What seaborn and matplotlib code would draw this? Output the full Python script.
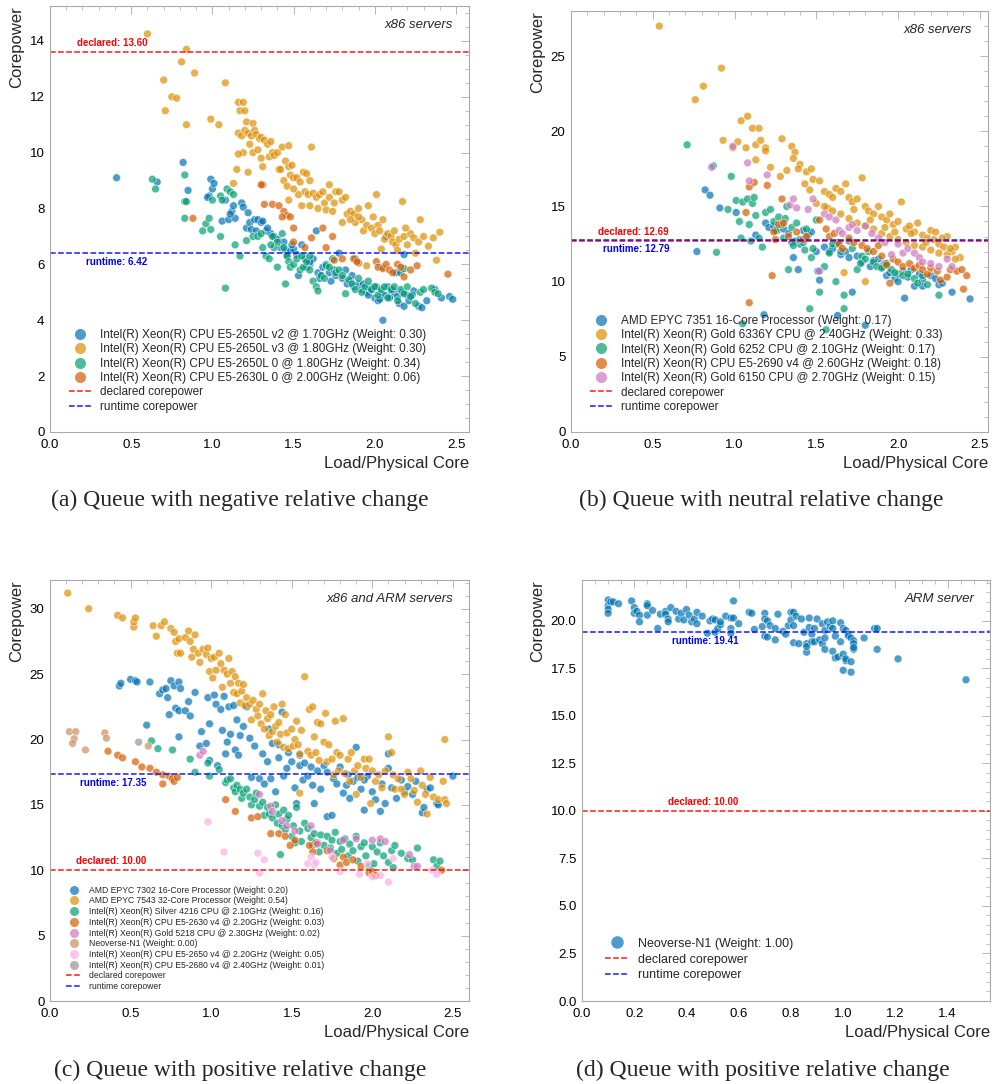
import numpy as np
import pandas as pd
import seaborn as sns
import matplotlib.pyplot as plt
from matplotlib.lines import Line2D
from matplotlib.ticker import AutoMinorLocator

# ---------------- data: (load per physical core, corepower) ----------------
# panel (a) - negative relative change
a_2650l_v2 = [(0.41, 9.1), (0.66, 8.95), (0.82, 9.65), (0.85, 8.65), (0.98, 8.45), (0.99, 9.05), (1.0, 8.7),
              (1.01, 8.9), (0.97, 8.4), (1.06, 7.55), (1.1, 7.6), (1.08, 8.3), (1.12, 7.9), (1.13, 8.1), (1.18, 8.2),
              (1.19, 8.05), (1.21, 7.3), (1.22, 7.85), (1.23, 7.5), (1.24, 7.25), (1.26, 7.6), (1.27, 7.2), (1.28, 7.6),
              (1.3, 7.5), (1.33, 7.2), (1.36, 7.1), (1.38, 7.0), (1.4, 6.9), (1.42, 6.6), (1.44, 6.8), (1.45, 6.5),
              (1.48, 6.5), (1.5, 6.55), (1.52, 6.35), (1.53, 5.6), (1.55, 6.7), (1.57, 6.2), (1.6, 6.0), (1.62, 6.2),
              (1.64, 7.2), (1.65, 5.7), (1.67, 5.6), (1.68, 5.9), (1.7, 6.0), (1.72, 5.7), (1.75, 5.8), (1.78, 6.4),
              (1.8, 5.5), (1.82, 5.8), (1.85, 5.4), (1.87, 5.2), (1.88, 6.2), (1.9, 5.3), (1.92, 5.1), (1.95, 5.0),
              (1.97, 5.2), (2.0, 4.8), (2.02, 4.7), (2.04, 5.0), (2.05, 4.0), (2.06, 4.9), (2.08, 5.2), (2.1, 4.9),
              (2.12, 5.0), (2.13, 5.7), (2.15, 4.6), (2.16, 5.7), (2.18, 6.35), (2.18, 4.5), (2.2, 4.9), (2.24, 5.05),
              (2.27, 4.5), (2.29, 4.45), (2.32, 4.7), (2.37, 5.1), (2.41, 4.8), (2.46, 4.85), (2.48, 4.75), (2.07, 7.0),
              (1.58, 5.9), (1.6, 6.1), (1.66, 5.5), (1.73, 5.4), (1.76, 5.6), (1.83, 5.3), (1.86, 5.6), (1.93, 5.3),
              (1.96, 4.9), (1.98, 5.1), (2.01, 5.2), (2.03, 4.75), (2.09, 4.8), (2.11, 5.1), (2.14, 4.85), (2.17, 5.0),
              (2.21, 4.7), (2.23, 4.9), (1.46, 6.3), (1.49, 6.7), (1.34, 7.3), (1.31, 7.55), (1.14, 7.65), (1.11, 7.8)]
a_2650l_v3 = [(0.6, 14.25), (0.84, 13.7), (0.81, 13.25), (0.89, 12.85), (0.7, 12.6), (1.08, 12.5), (0.75, 12.0),
              (0.78, 11.95), (0.71, 11.5), (0.84, 11.0), (0.99, 11.2), (1.04, 11.0), (1.16, 11.8), (1.19, 11.8),
              (1.17, 11.5), (1.2, 11.5), (1.21, 11.1), (1.25, 11.05), (1.16, 10.7), (1.18, 10.6), (1.2, 10.8),
              (1.22, 10.7), (1.24, 10.6), (1.26, 10.8), (1.27, 10.65), (1.29, 10.5), (1.3, 10.55), (1.32, 10.45),
              (1.34, 10.3), (1.36, 10.4), (1.23, 10.3), (1.19, 10.0), (1.16, 9.95), (1.25, 10.0), (1.28, 10.1),
              (1.3, 9.8), (1.35, 9.85), (1.37, 10.0), (1.38, 9.9), (1.4, 10.0), (1.43, 10.2), (1.47, 10.25),
              (1.41, 9.4), (1.45, 9.7), (1.47, 9.5), (1.49, 9.55), (1.44, 9.0), (1.46, 8.8), (1.48, 9.2), (1.5, 9.1),
              (1.52, 9.1), (1.54, 8.95), (1.56, 9.3), (1.58, 9.25), (1.6, 9.0), (1.61, 10.2), (1.53, 8.5), (1.55, 8.1),
              (1.57, 8.6), (1.59, 8.5), (1.6, 8.1), (1.62, 8.55), (1.64, 8.4), (1.65, 8.0), (1.66, 8.5), (1.68, 8.6),
              (1.69, 8.2), (1.7, 7.95), (1.72, 8.85), (1.74, 7.9), (1.76, 8.6), (1.78, 8.6), (1.8, 8.3), (1.82, 8.4),
              (1.83, 7.8), (1.85, 7.9), (1.87, 7.8), (1.88, 7.5), (1.9, 8.0), (1.92, 7.6), (1.93, 7.2), (1.95, 7.4),
              (1.96, 8.1), (1.98, 7.3), (1.99, 7.7), (2.0, 7.1), (2.01, 8.5), (2.02, 7.4), (2.03, 7.2), (2.05, 7.6),
              (2.06, 6.9), (2.08, 7.1), (2.1, 7.0), (2.11, 6.8), (2.12, 7.2), (2.13, 6.7), (2.14, 6.5), (2.15, 6.9),
              (2.17, 8.25), (2.18, 7.0), (2.2, 6.7), (2.22, 7.1), (2.24, 6.95), (2.25, 6.4), (2.27, 6.8), (2.28, 7.6),
              (2.3, 7.0), (2.33, 6.65), (2.36, 6.95), (2.38, 6.15), (2.4, 7.15), (2.04, 6.55), (1.95, 5.95),
              (2.19, 7.3), (1.15, 9.4), (1.13, 8.9), (1.22, 9.3), (1.31, 9.5), (1.42, 9.4), (1.47, 8.3), (1.5, 8.7),
              (1.72, 8.4), (1.75, 8.2), (1.8, 7.5), (1.85, 7.6), (1.9, 7.7)]
a_2650l_0 = [(0.63, 9.05), (0.65, 8.7), (0.83, 9.2), (0.83, 8.25), (0.84, 8.25), (0.83, 7.65), (0.94, 7.2),
             (0.96, 7.45), (0.98, 7.65), (0.99, 7.25), (1.0, 8.3), (1.05, 8.45), (1.06, 8.3), (1.09, 8.7), (1.11, 8.6),
             (1.13, 8.5), (1.05, 7.0), (1.08, 5.15), (1.14, 6.7), (1.17, 6.3), (1.21, 6.85), (1.25, 7.0), (1.28, 7.0),
             (1.31, 6.6), (1.33, 6.3), (1.35, 6.2), (1.37, 7.0), (1.38, 6.6), (1.4, 6.8), (1.4, 5.9), (1.43, 7.1),
             (1.45, 5.3), (1.46, 6.3), (1.47, 6.1), (1.48, 5.9), (1.5, 6.0), (1.52, 6.2), (1.54, 5.8), (1.56, 5.9),
             (1.58, 6.1), (1.6, 5.8), (1.62, 5.4), (1.64, 5.2), (1.65, 5.05), (1.67, 5.6), (1.69, 5.5), (1.7, 5.95),
             (1.72, 5.9), (1.74, 6.2), (1.76, 5.7), (1.78, 5.8), (1.8, 5.6), (1.82, 4.95), (1.84, 5.45), (1.86, 5.3),
             (1.88, 5.1), (1.9, 5.5), (1.92, 5.0), (1.94, 5.2), (1.96, 5.4), (1.98, 5.1), (2.0, 5.2), (2.02, 4.9),
             (2.04, 5.1), (2.06, 5.2), (2.08, 4.8), (2.1, 5.1), (2.12, 5.2), (2.14, 4.7), (2.16, 5.1), (2.18, 4.95),
             (2.2, 5.2), (2.22, 4.85), (2.25, 4.6), (2.28, 5.0), (2.3, 5.1), (2.35, 5.15), (2.37, 5.0), (2.39, 4.95),
             (2.04, 5.9), (2.18, 5.85), (1.3, 7.1), (1.44, 6.6), (1.36, 6.7), (1.55, 6.3), (1.6, 6.3)]
a_2630l_0 = [(0.88, 7.65), (1.31, 8.85), (1.32, 8.15), (1.37, 8.15), (1.41, 8.1), (1.44, 7.9), (1.46, 7.75),
             (1.48, 7.7), (1.43, 7.7), (1.5, 7.3), (1.5, 6.8), (1.57, 6.6), (1.61, 6.95), (1.68, 7.3), (1.7, 6.6),
             (1.74, 7.0), (1.75, 6.15), (1.8, 6.2), (1.87, 6.2), (1.9, 6.05), (1.89, 6.1), (2.01, 6.1), (2.02, 5.9),
             (2.05, 5.85), (2.07, 6.0), (2.09, 5.8), (2.11, 5.7), (2.14, 6.0), (2.16, 5.9), (2.18, 5.55), (2.22, 5.8),
             (2.26, 5.95), (2.45, 5.65), (1.3, 8.85)]
a_labels = ["Intel(R) Xeon(R) CPU E5-2650L v2 @ 1.70GHz (Weight: 0.30)",
            "Intel(R) Xeon(R) CPU E5-2650L v3 @ 1.80GHz (Weight: 0.30)",
            "Intel(R) Xeon(R) CPU E5-2650L 0 @ 1.80GHz (Weight: 0.34)",
            "Intel(R) Xeon(R) CPU E5-2630L 0 @ 2.00GHz (Weight: 0.06)"]
a_declared, a_runtime = 13.60, 6.42

# panel (b) - neutral relative change
b_epyc7351 = [(0.82, 16.1), (0.85, 15.75), (0.91, 14.9), (1.01, 14.6), (0.77, 12.0), (1.13, 13.1), (1.19, 13.9),
              (1.21, 13.6), (1.24, 13.7), (1.26, 13.4), (1.3, 13.5), (1.33, 13.2), (1.36, 11.6), (1.39, 10.8),
              (1.42, 13.4), (1.45, 13.1), (1.47, 13.3), (1.5, 12.0), (1.51, 10.7), (1.52, 10.1), (1.55, 12.3),
              (1.58, 12.0), (1.62, 12.5), (1.63, 7.75), (1.65, 11.8), (1.68, 12.0), (1.7, 11.6), (1.72, 9.3),
              (1.75, 11.7), (1.78, 11.3), (1.8, 7.1), (1.83, 11.0), (1.85, 11.4), (1.88, 11.5), (1.9, 11.0),
              (1.93, 10.4), (1.95, 10.6), (1.98, 10.2), (2.0, 10.0), (2.03, 10.7), (2.04, 8.9), (2.06, 10.3),
              (2.08, 10.8), (2.1, 9.7), (2.13, 10.5), (2.15, 10.1), (2.2, 10.4), (2.23, 10.2), (2.25, 9.8),
              (2.27, 9.9), (2.33, 9.3), (2.44, 8.85), (1.18, 7.8), (1.35, 12.6), (1.4, 12.5), (1.6, 12.2),
              (1.92, 11.2), (2.15, 9.7)]
b_gold6336y = [(0.54, 27.0), (0.92, 24.2), (0.81, 23.0), (0.76, 22.1), (1.04, 20.7), (1.08, 21.0), (1.11, 20.2),
               (1.15, 20.2), (0.93, 19.4), (0.99, 18.9), (1.02, 19.3), (1.07, 18.9), (1.13, 19.1), (1.16, 19.4),
               (1.19, 18.9), (1.19, 18.7), (1.13, 18.1), (1.22, 17.6), (1.29, 19.5), (1.35, 19.0), (1.37, 18.6),
               (1.36, 18.2), (1.32, 17.4), (1.28, 17.0), (1.4, 17.8), (1.44, 17.3), (1.47, 17.5), (1.39, 17.5),
               (1.43, 16.5), (1.46, 16.1), (1.48, 16.8), (1.52, 16.7), (1.55, 16.0), (1.58, 15.8), (1.6, 15.6),
               (1.62, 16.2), (1.65, 16.0), (1.68, 16.5), (1.7, 15.6), (1.72, 15.3), (1.75, 15.5), (1.78, 16.9),
               (1.8, 15.0), (1.82, 14.7), (1.85, 14.5), (1.88, 15.0), (1.9, 14.3), (1.93, 14.1), (1.95, 14.5),
               (1.97, 13.8), (2.0, 14.0), (2.02, 15.3), (2.05, 13.5), (2.07, 13.7), (2.1, 13.3), (2.12, 13.9),
               (2.15, 13.1), (2.18, 12.9), (2.2, 13.4), (2.22, 12.8), (2.25, 12.5), (2.28, 12.3), (2.3, 13.0),
               (2.33, 12.0), (2.35, 12.3), (2.38, 11.6), (1.67, 10.6), (1.8, 10.0), (1.57, 14.9), (1.65, 14.5),
               (1.7, 14.2), (1.75, 13.9), (1.8, 13.7), (1.85, 13.5), (1.9, 13.2), (1.95, 13.0), (2.0, 12.8),
               (2.05, 12.6), (2.1, 12.4), (2.15, 12.3), (2.2, 12.1), (2.25, 11.9), (2.3, 11.8), (2.35, 11.5),
               (1.5, 15.2), (1.55, 15.0), (1.6, 14.7), (1.73, 14.8), (1.83, 14.1), (1.92, 13.6), (1.98, 13.3),
               (2.08, 13.2), (2.17, 12.6), (2.23, 13.3), (2.27, 12.9), (2.32, 12.2)]
b_gold6252 = [(0.71, 19.1), (0.87, 17.7), (0.98, 17.0), (0.89, 11.95), (0.96, 14.8), (1.01, 15.4), (1.05, 15.3),
              (1.03, 14.0), (1.04, 12.9), (1.08, 15.5), (1.09, 13.8), (1.11, 15.2), (1.13, 14.4), (1.12, 15.6),
              (1.17, 12.3), (1.19, 14.6), (1.22, 14.8), (1.24, 14.0), (1.25, 13.4), (1.27, 14.3), (1.29, 13.8),
              (1.31, 14.2), (1.32, 15.0), (1.33, 10.8), (1.35, 13.6), (1.37, 12.7), (1.38, 13.9), (1.4, 12.8),
              (1.42, 12.6), (1.44, 13.5), (1.46, 8.2), (1.47, 11.6), (1.48, 12.2), (1.5, 14.1), (1.52, 9.3),
              (1.55, 11.0), (1.56, 6.8), (1.6, 12.5), (1.63, 12.6), (1.62, 10.0), (1.65, 12.0), (1.67, 9.1),
              (1.67, 8.2), (1.7, 12.7), (1.72, 12.2), (1.75, 10.8), (1.78, 11.7), (1.8, 11.5), (1.82, 12.0),
              (1.85, 11.3), (1.87, 11.0), (1.9, 10.9), (1.93, 11.2), (1.96, 10.8), (2.0, 10.5), (2.03, 10.4),
              (2.06, 10.5), (2.1, 10.2), (2.12, 9.9), (2.18, 9.8), (2.25, 9.1), (1.05, 7.2), (1.1, 12.7),
              (1.15, 12.9), (1.3, 12.9), (1.36, 12.4), (1.43, 12.1), (1.58, 11.9), (1.77, 11.2), (1.98, 10.6),
              (2.15, 10.4)]
b_e5_2690v4 = [(1.09, 16.3), (1.07, 14.6), (1.12, 16.6), (1.2, 16.4), (1.23, 10.4), (1.09, 8.6), (1.29, 15.5),
               (1.24, 13.3), (1.27, 13.8), (1.3, 13.9), (1.33, 13.0), (1.38, 13.3), (1.42, 12.8), (1.44, 13.0),
               (1.52, 14.1), (1.56, 13.5), (1.58, 13.0), (1.61, 13.2), (1.64, 12.5), (1.66, 12.2), (1.7, 12.9),
               (1.73, 12.6), (1.78, 12.4), (1.81, 12.2), (1.85, 12.0), (1.88, 12.4), (1.9, 11.7), (1.93, 11.1),
               (1.95, 9.9), (1.97, 11.5), (2.0, 11.3), (2.03, 11.0), (2.07, 11.2), (2.1, 10.9), (2.13, 11.1),
               (2.15, 10.8), (2.18, 10.5), (2.2, 10.9), (2.24, 10.7), (2.26, 10.1), (2.3, 10.3), (2.32, 10.8),
               (2.36, 10.7), (2.39, 10.8), (2.4, 9.5), (2.42, 10.4), (1.25, 12.8)]
b_gold6150 = [(0.99, 19.0), (1.08, 17.9), (1.09, 16.7), (1.2, 17.1), (1.34, 15.1), (1.36, 15.5), (1.38, 14.9),
              (1.45, 14.8), (1.48, 15.5), (1.52, 10.7), (1.55, 14.5), (1.58, 14.3), (1.62, 14.1), (1.64, 13.4),
              (1.66, 13.2), (1.7, 13.6), (1.72, 13.8), (1.75, 13.4), (1.8, 13.7), (1.84, 13.2), (1.88, 12.9),
              (1.92, 12.6), (1.96, 11.8), (2.0, 12.5), (2.03, 11.9), (2.06, 12.2), (2.1, 11.9), (2.13, 11.6),
              (2.15, 11.3), (2.2, 11.2), (2.25, 11.0), (2.3, 11.5), (2.33, 11.0), (0.86, 17.6)]
b_labels = ["AMD EPYC 7351 16-Core Processor (Weight: 0.17)",
            "Intel(R) Xeon(R) Gold 6336Y CPU @ 2.40GHz (Weight: 0.33)",
            "Intel(R) Xeon(R) Gold 6252 CPU @ 2.10GHz (Weight: 0.17)",
            "Intel(R) Xeon(R) CPU E5-2690 v4 @ 2.60GHz (Weight: 0.18)",
            "Intel(R) Xeon(R) Gold 6150 CPU @ 2.70GHz (Weight: 0.15)"]
b_declared, b_runtime = 12.69, 12.79

# panel (c) - positive relative change, mixed x86 / ARM
c_epyc7302 = [(0.43, 24.1), (0.44, 24.3), (0.5, 24.6), (0.53, 24.5), (0.54, 24.4), (0.62, 24.4), (0.6, 21.1),
              (0.68, 23.5), (0.7, 23.8), (0.72, 23.9), (0.73, 23.2), (0.74, 21.9), (0.75, 24.5), (0.77, 24.1),
              (0.78, 22.4), (0.8, 22.2), (0.8, 24.4), (0.81, 23.9), (0.8, 20.2), (0.84, 22.2), (0.86, 22.9),
              (0.87, 21.8), (0.9, 23.6), (0.93, 19.5), (0.94, 20.6), (0.97, 19.7), (0.98, 23.2), (0.99, 21.2),
              (0.99, 18.4), (1.02, 23.4), (1.03, 22.7), (1.04, 18.0), (1.06, 22.3), (1.07, 20.7), (1.08, 23.3),
              (1.09, 18.9), (1.1, 19.8), (1.11, 22.5), (1.12, 20.4), (1.14, 22.6), (1.15, 19.2), (1.16, 21.5),
              (1.17, 18.8), (1.18, 20.3), (1.2, 21.0), (1.22, 22.5), (1.24, 20.1), (1.25, 17.1), (1.27, 19.5),
              (1.3, 17.0), (1.32, 18.9), (1.33, 16.6), (1.35, 18.3), (1.37, 17.0), (1.38, 19.7), (1.4, 16.0),
              (1.42, 18.6), (1.44, 22.1), (1.45, 17.2), (1.47, 17.8), (1.5, 18.3), (1.52, 16.3), (1.53, 15.1),
              (1.55, 18.0), (1.57, 16.9), (1.6, 17.2), (1.63, 16.5), (1.64, 15.1), (1.66, 17.6), (1.68, 16.2),
              (1.7, 18.0), (1.72, 14.1), (1.75, 14.2), (1.76, 17.0), (1.78, 16.6), (1.8, 17.9), (1.82, 15.9),
              (1.84, 16.5), (1.86, 15.5), (1.88, 16.8), (1.9, 19.4), (1.91, 17.1), (1.93, 16.2), (1.95, 14.6),
              (1.97, 17.2), (2.0, 16.0), (2.02, 15.4), (2.05, 14.5), (2.06, 16.6), (2.08, 15.1), (2.1, 18.9),
              (2.1, 17.8), (2.12, 16.3), (2.15, 15.5), (2.18, 16.9), (2.2, 16.0), (2.22, 16.4), (2.25, 15.8),
              (2.27, 16.8), (2.31, 14.4), (2.32, 14.8), (2.34, 16.2), (2.36, 16.3), (2.4, 15.1), (2.41, 15.0),
              (2.5, 17.2), (1.36, 20.8), (1.42, 19.6), (1.48, 19.0), (1.55, 18.8), (1.58, 18.2), (1.62, 17.9),
              (1.72, 17.5), (1.85, 17.3), (1.95, 16.9)]
c_epyc7543 = [(0.11, 31.2), (0.24, 30.0), (0.42, 29.5), (0.45, 29.3), (0.52, 28.6), (0.52, 29.0), (0.53, 29.3),
              (0.64, 28.7), (0.66, 27.9), (0.69, 28.7), (0.71, 29.0), (0.75, 28.5), (0.77, 28.2), (0.78, 27.5),
              (0.8, 27.7), (0.79, 26.6), (0.81, 26.6), (0.84, 27.8), (0.86, 28.3), (0.87, 27.5), (0.9, 28.0),
              (0.89, 26.9), (0.88, 26.3), (0.92, 26.6), (0.93, 25.9), (0.95, 26.9), (0.97, 26.5), (0.98, 27.0),
              (0.99, 25.2), (1.0, 26.2), (1.01, 24.7), (1.02, 26.3), (1.03, 25.3), (1.05, 26.6), (1.06, 25.8),
              (1.07, 24.0), (1.08, 25.3), (1.1, 25.0), (1.11, 26.2), (1.12, 24.3), (1.13, 25.2), (1.14, 23.6),
              (1.15, 24.8), (1.16, 23.5), (1.17, 24.3), (1.18, 22.8), (1.19, 23.7), (1.2, 24.2), (1.21, 22.6),
              (1.22, 23.2), (1.24, 22.7), (1.25, 21.5), (1.26, 23.0), (1.28, 22.3), (1.29, 21.8), (1.3, 22.7),
              (1.31, 21.2), (1.32, 23.5), (1.33, 20.8), (1.34, 22.2), (1.35, 21.6), (1.36, 20.3), (1.37, 21.9),
              (1.38, 20.6), (1.39, 22.5), (1.4, 21.0), (1.41, 19.8), (1.42, 21.3), (1.43, 20.4), (1.44, 22.7),
              (1.45, 19.4), (1.46, 21.9), (1.47, 20.5), (1.48, 19.3), (1.5, 20.8), (1.51, 19.5), (1.52, 20.0),
              (1.53, 21.4), (1.54, 19.6), (1.55, 18.9), (1.56, 20.7), (1.55, 15.9), (1.58, 24.8), (1.6, 19.1),
              (1.61, 22.3), (1.62, 18.8), (1.63, 22.5), (1.64, 20.2), (1.65, 19.0), (1.66, 21.3), (1.67, 18.4),
              (1.68, 21.2), (1.7, 19.8), (1.71, 22.0), (1.72, 18.3), (1.73, 19.6), (1.75, 18.5), (1.76, 17.3),
              (1.77, 21.4), (1.78, 19.0), (1.79, 17.6), (1.8, 18.8), (1.82, 21.6), (1.83, 17.4), (1.85, 18.5),
              (1.86, 16.8), (1.87, 19.0), (1.89, 17.6), (1.9, 15.8), (1.91, 18.0), (1.93, 17.1), (1.95, 18.5),
              (1.96, 17.8), (1.98, 18.5), (1.99, 15.1), (2.0, 17.6), (2.02, 16.8), (2.04, 17.3), (2.06, 16.3),
              (2.08, 17.6), (2.1, 20.2), (2.12, 19.0), (2.13, 17.3), (2.14, 16.2), (2.16, 17.0), (2.18, 16.2),
              (2.2, 15.8), (2.22, 17.5), (2.24, 17.0), (2.26, 16.1), (2.28, 15.2), (2.3, 17.6), (2.31, 16.5),
              (2.33, 15.8), (2.34, 14.3), (2.36, 17.1), (2.38, 15.6), (2.41, 15.4), (2.44, 16.8), (2.45, 15.4),
              (2.46, 15.1), (2.45, 20.0)]
c_silver4216 = [(0.63, 19.9), (0.67, 19.3), (0.76, 19.2), (0.87, 18.5), (0.9, 17.5), (0.99, 17.2), (1.05, 17.7),
                (1.09, 16.7), (1.1, 16.9), (1.12, 17.0), (1.14, 16.3), (1.15, 16.0), (1.16, 16.5), (1.18, 16.2),
                (1.19, 15.5), (1.2, 15.9), (1.22, 16.2), (1.24, 15.6), (1.25, 15.0), (1.27, 15.4), (1.28, 15.9),
                (1.3, 14.9), (1.32, 15.2), (1.33, 14.2), (1.35, 14.8), (1.36, 14.3), (1.38, 14.0), (1.4, 15.0),
                (1.41, 13.6), (1.42, 14.3), (1.43, 11.2), (1.44, 13.4), (1.45, 14.6), (1.46, 13.1), (1.47, 13.9),
                (1.48, 14.2), (1.5, 12.6), (1.51, 13.4), (1.52, 12.1), (1.53, 14.8), (1.55, 13.0), (1.56, 12.2),
                (1.58, 13.6), (1.6, 13.2), (1.62, 12.5), (1.63, 11.9), (1.64, 12.8), (1.66, 12.1), (1.67, 11.4),
                (1.68, 12.7), (1.7, 11.9), (1.72, 12.6), (1.74, 11.7), (1.75, 12.3), (1.77, 12.9), (1.78, 11.3),
                (1.8, 12.2), (1.81, 11.6), (1.83, 12.4), (1.85, 11.1), (1.86, 12.0), (1.88, 11.5), (1.9, 12.6),
                (1.91, 10.7), (1.93, 11.8), (1.95, 12.1), (1.96, 11.1), (1.98, 10.3), (2.0, 11.8), (2.01, 10.5),
                (2.03, 11.4), (2.05, 12.1), (2.07, 11.1), (2.1, 10.6), (2.12, 11.5), (2.13, 10.2), (2.14, 11.9),
                (2.18, 11.3), (2.22, 10.9), (2.25, 10.8), (2.28, 11.7), (2.38, 10.8), (2.4, 10.3), (2.42, 10.7),
                (0.98, 18.2)]
c_e5_2630v4 = [(0.36, 19.1), (0.42, 18.8), (0.45, 18.6), (0.53, 18.3), (0.57, 17.9), (0.62, 17.8), (0.66, 17.5),
               (0.7, 17.3), (0.7, 16.6), (0.74, 17.2), (0.76, 17.0), (0.77, 16.8), (0.79, 17.1), (1.09, 15.4),
               (1.15, 14.5), (1.25, 14.0), (1.29, 14.1), (1.37, 12.8), (1.42, 12.8), (1.46, 12.6), (1.49, 11.9),
               (1.52, 12.3), (1.61, 11.9), (1.63, 11.4), (1.65, 12.1), (1.72, 11.5), (1.76, 10.9), (1.8, 10.4),
               (1.82, 11.0), (1.84, 10.6), (1.88, 10.8), (1.93, 10.3), (1.98, 9.8), (2.0, 9.9), (2.02, 9.6),
               (2.43, 10.0)]
c_gold5218 = [(0.93, 18.8), (0.95, 19.1), (1.3, 15.8), (1.37, 14.9), (1.38, 14.5), (1.44, 13.8), (1.47, 13.4),
              (1.52, 13.0), (1.62, 13.4), (1.66, 12.0), (1.74, 11.5), (1.82, 12.3), (1.9, 12.4), (2.0, 12.3),
              (2.05, 12.4), (2.08, 12.2), (2.23, 11.2), (2.26, 10.3), (2.28, 10.3)]
c_neoverse = [(0.12, 20.6), (0.16, 20.6), (0.15, 20.06), (0.14, 19.7), (0.22, 19.2), (0.34, 20.5), (0.35, 20.1),
              (0.61, 19.5)]
c_e5_2650v4 = [(0.98, 13.7), (1.08, 11.4), (1.29, 11.3), (1.3, 9.8), (1.33, 10.8), (1.6, 10.5), (1.62, 11.0),
               (1.64, 10.4), (1.65, 10.6), (1.8, 9.9), (1.92, 9.7), (1.97, 10.5), (2.0, 9.5), (2.05, 9.6),
               (2.1, 9.1), (2.13, 10.9), (2.37, 10.0), (2.4, 9.7), (1.75, 11.0)]
c_e5_2680v4 = [(0.55, 19.8)]
c_labels = ["AMD EPYC 7302 16-Core Processor (Weight: 0.20)",
            "AMD EPYC 7543 32-Core Processor (Weight: 0.54)",
            "Intel(R) Xeon(R) Silver 4216 CPU @ 2.10GHz (Weight: 0.16)",
            "Intel(R) Xeon(R) CPU E5-2630 v4 @ 2.20GHz (Weight: 0.03)",
            "Intel(R) Xeon(R) Gold 5218 CPU @ 2.30GHz (Weight: 0.02)",
            "Neoverse-N1 (Weight: 0.00)",
            "Intel(R) Xeon(R) CPU E5-2650 v4 @ 2.20GHz (Weight: 0.05)",
            "Intel(R) Xeon(R) CPU E5-2680 v4 @ 2.40GHz (Weight: 0.01)"]
c_declared, c_runtime = 10.00, 17.35

# panel (d) - ARM only
d_neoverse = [(0.1, 21.1), (0.1, 20.8), (0.1, 20.6), (0.1, 20.4), (0.11, 21.0), (0.12, 21.0), (0.14, 20.9),
              (0.19, 21.05), (0.2, 20.7), (0.2, 20.4), (0.21, 20.5), (0.22, 20.3), (0.22, 19.95), (0.25, 20.9),
              (0.25, 20.8), (0.25, 20.3), (0.27, 20.55), (0.29, 19.6), (0.3, 20.35), (0.32, 20.5), (0.32, 20.35),
              (0.33, 20.1), (0.33, 19.95), (0.34, 20.7), (0.36, 20.5), (0.37, 20.1), (0.38, 20.4), (0.39, 20.05),
              (0.4, 20.6), (0.41, 20.3), (0.42, 19.95), (0.43, 20.1), (0.44, 19.85), (0.44, 20.45), (0.46, 20.25),
              (0.48, 19.35), (0.49, 20.0), (0.5, 20.1), (0.51, 20.05), (0.51, 19.4), (0.52, 19.6), (0.53, 19.8),
              (0.53, 19.95), (0.55, 20.25), (0.57, 20.15), (0.57, 19.6), (0.57, 19.35), (0.58, 21.05),
              (0.58, 20.15), (0.6, 19.85), (0.64, 20.45), (0.65, 20.4), (0.66, 19.55), (0.69, 19.7), (0.7, 20.4),
              (0.7, 20.1), (0.7, 19.2), (0.71, 20.0), (0.71, 19.15), (0.72, 19.75), (0.74, 19.6), (0.74, 19.0),
              (0.75, 20.35), (0.77, 19.45), (0.78, 19.3), (0.79, 19.75), (0.8, 20.45), (0.8, 20.05), (0.81, 20.45),
              (0.81, 19.75), (0.81, 18.85), (0.82, 20.25), (0.83, 18.8), (0.84, 20.1), (0.85, 19.4), (0.86, 18.8),
              (0.86, 18.35), (0.86, 18.65), (0.87, 20.15), (0.87, 19.65), (0.88, 19.3), (0.88, 18.9), (0.89, 19.6),
              (0.89, 18.9), (0.9, 20.1), (0.91, 19.0), (0.92, 18.8), (0.92, 19.85), (0.93, 19.5), (0.93, 19.1),
              (0.93, 18.5), (0.94, 19.95), (0.95, 19.7), (0.96, 20.0), (0.96, 19.6), (0.96, 18.4), (0.97, 19.2),
              (0.97, 18.05), (0.98, 18.1), (0.99, 19.9), (0.99, 18.9), (1.0, 18.25), (1.0, 17.4), (1.0, 19.6),
              (1.01, 19.5), (1.01, 17.9), (1.01, 18.0), (1.02, 19.3), (1.02, 19.2), (1.03, 19.1), (1.03, 17.3),
              (1.03, 17.85), (1.04, 18.95), (1.04, 18.8), (1.04, 18.5), (1.04, 18.6), (1.08, 19.1), (1.12, 19.6),
              (1.13, 19.6), (1.13, 18.5), (1.21, 18.0), (1.47, 16.9)]
d_labels = ["Neoverse-N1 (Weight: 1.00)"]
d_declared, d_runtime = 10.00, 19.41

captions = ["(a) Queue with negative relative change", "(b) Queue with neutral relative change",
            "(c) Queue with positive relative change", "(d) Queue with positive relative change"]

# ---------------- style ----------------
sns.set_theme(style="white")
plt.rcParams["font.family"] = ["Liberation Sans", "DejaVu Sans"]
plt.rcParams.update({
    "xtick.direction": "in", "ytick.direction": "in",
    "xtick.top": True, "ytick.right": True,
    "xtick.color": "#aaaaaa", "ytick.color": "#aaaaaa",
    "xtick.labelcolor": "black", "ytick.labelcolor": "black",
    "xtick.major.size": 6, "ytick.major.size": 6,
    "xtick.minor.size": 3, "ytick.minor.size": 3,
    "xtick.major.width": 0.6, "ytick.major.width": 0.6,
    "xtick.minor.width": 0.5, "ytick.minor.width": 0.5,
    "xtick.major.pad": 5, "ytick.major.pad": 4,
    "xtick.labelsize": 9.5, "ytick.labelsize": 9.5,
    "axes.edgecolor": "#aaaaaa", "axes.linewidth": 0.8,
})
colors = sns.color_palette("colorblind")

W, H = 997, 1084
fig = plt.figure(figsize=(W / 100, H / 100), dpi=100)


def make_ax(l, t, r, b):
    return fig.add_axes([l / W, 1 - b / H, (r - l) / W, (b - t) / H])


def panel(ax, series, labels, declared, runtime, tag, xlim, ylim, legend_size, ms, spacing, anchor):
    frames = []
    for pts, lab in zip(series, labels):
        arr = np.array(pts)
        frames.append(pd.DataFrame({"load": arr[:, 0], "corepower": arr[:, 1], "cpu": lab}))
    df = pd.concat(frames, ignore_index=True)
    pal = colors[:len(labels)]
    sns.scatterplot(data=df, x="load", y="corepower", hue="cpu", hue_order=labels, palette=pal,
                    s=32, alpha=0.7, edgecolor="white", linewidth=0.5, legend=False, ax=ax)
    ax.axhline(declared, color="red", ls="--", lw=1.1, alpha=0.9)
    ax.axhline(runtime, color="blue", ls="--", lw=1.1, alpha=0.9)
    ax.text(0.6, declared + 0.01 * ylim, f"declared: {declared:.2f}", color="red", fontsize=7,
            fontweight="bold", ha="right", va="bottom")
    ax.text(0.6, runtime - 0.01 * ylim, f"runtime: {runtime:.2f}", color="blue", fontsize=7,
            fontweight="bold", ha="right", va="top")
    ax.text(0.962, 0.97, tag, transform=ax.transAxes, ha="right", va="top", fontsize=9.5, style="italic")
    ax.set_xlim(0, xlim)
    ax.set_ylim(0, ylim)
    ax.xaxis.set_minor_locator(AutoMinorLocator())
    ax.yaxis.set_minor_locator(AutoMinorLocator())
    ax.set_xlabel("Load/Physical Core", loc="right", fontsize=12, labelpad=4)
    ax.set_ylabel("Corepower", loc="top", fontsize=12, labelpad=4)
    handles = [Line2D([], [], ls="", marker="o", color=c, alpha=0.7, markersize=ms, markeredgecolor="none")
               for c in pal]
    handles += [Line2D([], [], color="red", ls="--", lw=1.1, alpha=0.9),
                Line2D([], [], color="blue", ls="--", lw=1.1, alpha=0.9)]
    ax.legend(handles, labels + ["declared corepower", "runtime corepower"], loc="lower left",
              bbox_to_anchor=anchor, frameon=False, fontsize=legend_size, handlelength=1.9,
              handletextpad=0.7, labelspacing=spacing)


ax_a = make_ax(50, 6, 469, 432)
panel(ax_a, [a_2650l_v2, a_2650l_v3, a_2650l_0, a_2630l_0], a_labels, a_declared, a_runtime,
      "x86 servers", 2.58, 15.25, 8.5, 8, 0.2, (0.02, 0.02))
ax_b = make_ax(571, 11, 988, 432)
panel(ax_b, [b_epyc7351, b_gold6336y, b_gold6252, b_e5_2690v4, b_gold6150], b_labels, b_declared, b_runtime,
      "x86 servers", 2.55, 28.0, 8.5, 8, 0.2, (0.02, 0.02))
ax_c = make_ax(50, 580, 469, 1001)
panel(ax_c, [c_epyc7302, c_epyc7543, c_silver4216, c_e5_2630v4, c_gold5218, c_neoverse, c_e5_2650v4, c_e5_2680v4],
      c_labels, c_declared, c_runtime, "x86 and ARM servers", 2.6, 32.2, 6.2, 6.5, 0.2, (0.02, 0.005))
ax_d = make_ax(582, 580, 990, 1001)
panel(ax_d, [d_neoverse], d_labels, d_declared, d_runtime, "ARM server", 1.562, 22.15, 9, 9, 0.3, (0.03, 0.02))

cap_pos = [(240, 500), (761, 500), (240, 1070), (763, 1070)]
for (cx, cy), txt in zip(cap_pos, captions):
    fig.text(cx / W, 1 - cy / H, txt, ha="center", va="center", fontsize=17, family="Liberation Serif")

fig.savefig("out.png", dpi=100)
